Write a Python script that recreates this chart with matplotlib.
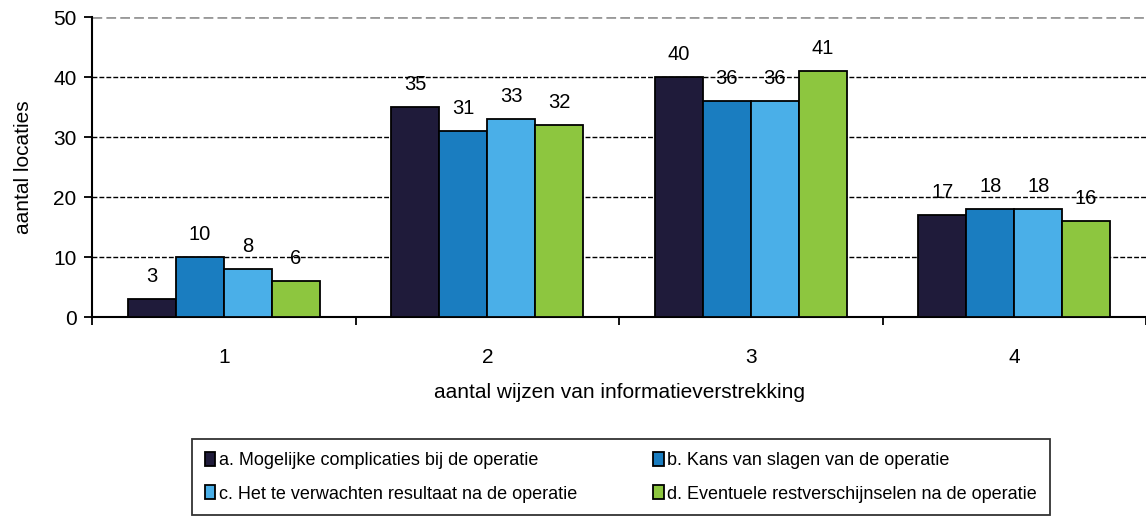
import numpy as np
import matplotlib.pyplot as plt

plt.rcParams['font.family'] = ['Liberation Sans', 'DejaVu Sans']

groepen = ['1', '2', '3', '4']
series = ['a. Mogelijke complicaties bij de operatie',
          'b. Kans van slagen van de operatie',
          'c. Het te verwachten resultaat na de operatie',
          'd. Eventuele restverschijnselen na de operatie']
waarden = [[3, 35, 40, 17],
           [10, 31, 36, 18],
           [8, 33, 36, 18],
           [6, 32, 41, 16]]
kleuren = ['#1f1b3a', '#1a7dc0', '#4aafe8', '#8dc63f']

fig = plt.figure(figsize=(11.46, 5.22), dpi=100)
ax = fig.add_axes([0.0803, 0.3927, 0.9197, 0.5747])

x = np.arange(len(groepen))
w = 0.182
handles = []
for i, (naam, vals, kl) in enumerate(zip(series, waarden, kleuren)):
    pos = x + (i - 1.5) * w
    bars = ax.bar(pos, vals, w, color=kl, edgecolor='black', linewidth=1.3,
                  label=naam, zorder=3)
    handles.append(bars)
    for b, v in zip(bars, vals):
        ax.text(b.get_x() + b.get_width() / 2, v + 2.2, str(v),
                ha='center', va='bottom', fontsize=14.5, zorder=4)

ax.set_xlim(-0.5, 3.5)
ax.set_ylim(0, 50)
ax.set_yticks([0, 10, 20, 30, 40, 50])
ax.set_xticks(x)
ax.set_xticklabels(groepen)
ax.set_xticks(np.arange(-0.5, 4, 1), minor=True)
ax.tick_params(axis='x', which='major', length=0, pad=22, labelsize=15)
ax.tick_params(axis='x', which='minor', length=6, width=1.3, direction='out')
ax.tick_params(axis='y', length=6, width=1.3, labelsize=15, pad=5)

for y in [10, 20, 30, 40]:
    ax.axhline(y, color='black', linestyle=(0, (3.5, 1.5)), linewidth=1, zorder=1)
ax.axhline(50, color='#999999', linestyle=(0, (3.5, 1.5)), linewidth=2, zorder=1)

ax.spines['top'].set_visible(False)
ax.spines['right'].set_visible(False)
ax.spines['left'].set_linewidth(1.5)
ax.spines['bottom'].set_linewidth(1.5)

ax.set_xlabel('aantal wijzen van informatieverstrekking', fontsize=15, labelpad=12)
ax.set_ylabel('aantal locaties', fontsize=15, labelpad=15)

# rij 1: a, b  -  rij 2: c, d
volgorde = [0, 2, 1, 3]
leg = fig.legend([handles[k] for k in volgorde], [series[k] for k in volgorde],
                 loc='lower left', bbox_to_anchor=(0.1675, 0.013, 0.7485, 0.154),
                 mode='expand', ncol=2, fontsize=13, frameon=True, fancybox=False,
                 edgecolor='black', handlelength=0.6, handleheight=0.8,
                 handletextpad=0.2, columnspacing=2.0, borderpad=0.7,
                 borderaxespad=0, labelspacing=0.9)
leg.get_frame().set_linewidth(1.3)

fig.savefig('out.png', dpi=100)
